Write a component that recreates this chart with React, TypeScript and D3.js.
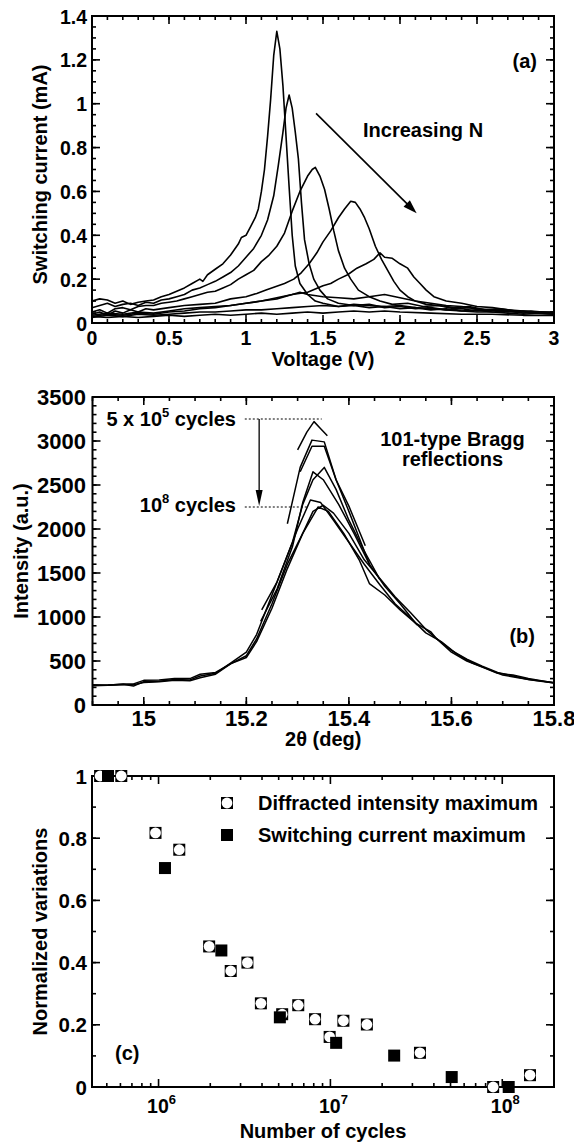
import React from 'react';
import * as d3 from 'd3';

const W = 574;
const H = 1144;
const FONT = '"Liberation Sans", Arial, Helvetica, sans-serif';

type P = [number, number];

// ---------- Panel (a): switching current vs voltage ----------
const curveA1: P[] = [[0,0.10],[0.05,0.11],[0.1,0.105],[0.15,0.09],[0.2,0.10],[0.25,0.085],[0.3,0.095],[0.35,0.10],[0.4,0.105],[0.45,0.12],[0.5,0.13],[0.55,0.145],[0.6,0.16],[0.65,0.18],[0.7,0.2],[0.72,0.19],[0.75,0.22],[0.8,0.245],[0.85,0.27],[0.9,0.31],[0.95,0.36],[0.97,0.39],[1.0,0.40],[1.03,0.44],[1.06,0.48],[1.08,0.52],[1.1,0.60],[1.12,0.70],[1.14,0.85],[1.16,1.02],[1.18,1.22],[1.2,1.33],[1.22,1.25],[1.24,1.08],[1.26,0.85],[1.28,0.62],[1.3,0.40],[1.32,0.26],[1.35,0.18],[1.4,0.13],[1.45,0.10],[1.5,0.09],[1.6,0.075],[1.7,0.08],[1.8,0.07],[1.9,0.075],[2.0,0.065],[2.1,0.07],[2.2,0.06],[2.3,0.065],[2.4,0.055],[2.5,0.06],[2.6,0.05],[2.7,0.055],[2.8,0.045],[2.9,0.05],[3.0,0.045]];
const curveA2: P[] = [[0,0.07],[0.05,0.08],[0.1,0.09],[0.15,0.075],[0.2,0.085],[0.25,0.09],[0.3,0.08],[0.35,0.095],[0.4,0.09],[0.45,0.105],[0.5,0.11],[0.55,0.12],[0.6,0.13],[0.65,0.15],[0.7,0.16],[0.75,0.175],[0.8,0.19],[0.85,0.21],[0.9,0.23],[0.95,0.26],[1.0,0.30],[1.05,0.34],[1.1,0.40],[1.14,0.47],[1.18,0.58],[1.21,0.72],[1.24,0.87],[1.26,0.98],[1.28,1.04],[1.3,0.98],[1.32,0.87],[1.34,0.75],[1.36,0.55],[1.38,0.38],[1.41,0.27],[1.44,0.2],[1.48,0.15],[1.53,0.11],[1.6,0.09],[1.7,0.08],[1.8,0.085],[1.9,0.07],[2.0,0.075],[2.1,0.065],[2.2,0.07],[2.3,0.06],[2.4,0.065],[2.5,0.055],[2.6,0.06],[2.7,0.05],[2.8,0.055],[2.9,0.045],[3.0,0.05]];
const curveA3: P[] = [[0,0.05],[0.05,0.06],[0.1,0.045],[0.15,0.065],[0.2,0.07],[0.25,0.06],[0.3,0.075],[0.35,0.08],[0.4,0.08],[0.45,0.09],[0.5,0.095],[0.55,0.10],[0.6,0.11],[0.65,0.12],[0.7,0.13],[0.75,0.14],[0.8,0.145],[0.85,0.16],[0.9,0.175],[0.95,0.20],[1.0,0.22],[1.05,0.24],[1.1,0.28],[1.15,0.31],[1.2,0.35],[1.25,0.41],[1.3,0.51],[1.35,0.60],[1.4,0.67],[1.43,0.70],[1.45,0.71],[1.48,0.67],[1.51,0.61],[1.54,0.52],[1.57,0.42],[1.6,0.33],[1.64,0.25],[1.68,0.2],[1.73,0.15],[1.8,0.12],[1.87,0.10],[1.95,0.085],[2.05,0.09],[2.15,0.075],[2.25,0.08],[2.35,0.065],[2.45,0.07],[2.55,0.055],[2.65,0.06],[2.75,0.05],[2.85,0.055],[3.0,0.045]];
const curveA4: P[] = [[0,0.04],[0.05,0.05],[0.1,0.035],[0.15,0.055],[0.2,0.045],[0.25,0.06],[0.3,0.05],[0.35,0.065],[0.4,0.06],[0.5,0.07],[0.6,0.08],[0.7,0.085],[0.8,0.09],[0.9,0.11],[1.0,0.12],[1.07,0.135],[1.13,0.15],[1.19,0.165],[1.25,0.18],[1.31,0.2],[1.36,0.23],[1.41,0.27],[1.46,0.32],[1.5,0.37],[1.55,0.42],[1.6,0.48],[1.64,0.52],[1.68,0.555],[1.71,0.55],[1.74,0.52],[1.77,0.48],[1.8,0.43],[1.84,0.35],[1.88,0.29],[1.92,0.24],[1.96,0.19],[2.0,0.15],[2.05,0.12],[2.1,0.10],[2.17,0.085],[2.25,0.08],[2.35,0.07],[2.45,0.075],[2.55,0.06],[2.65,0.065],[2.75,0.055],[2.85,0.05],[3.0,0.05]];
const curveA5: P[] = [[0,0.035],[0.1,0.045],[0.2,0.04],[0.3,0.05],[0.4,0.045],[0.5,0.055],[0.6,0.065],[0.7,0.07],[0.8,0.075],[0.9,0.08],[1.0,0.09],[1.1,0.10],[1.2,0.11],[1.3,0.13],[1.4,0.14],[1.5,0.17],[1.55,0.18],[1.6,0.2],[1.66,0.22],[1.72,0.25],[1.78,0.27],[1.83,0.29],[1.87,0.32],[1.9,0.30],[1.95,0.295],[2.0,0.27],[2.05,0.25],[2.09,0.21],[2.13,0.18],[2.17,0.15],[2.22,0.12],[2.3,0.10],[2.4,0.09],[2.5,0.075],[2.6,0.07],[2.7,0.06],[2.8,0.055],[2.9,0.05],[3.0,0.045]];
const curveA6: P[] = [[0,0.03],[0.1,0.04],[0.2,0.035],[0.3,0.045],[0.4,0.04],[0.5,0.05],[0.6,0.055],[0.7,0.065],[0.8,0.07],[0.9,0.08],[1.0,0.09],[1.1,0.10],[1.2,0.115],[1.3,0.13],[1.35,0.14],[1.4,0.13],[1.5,0.12],[1.6,0.115],[1.7,0.11],[1.8,0.12],[1.9,0.13],[2.0,0.115],[2.1,0.10],[2.2,0.09],[2.3,0.08],[2.4,0.075],[2.5,0.065],[2.6,0.06],[2.7,0.055],[2.8,0.05],[2.9,0.045],[3.0,0.04]];
const curveA7: P[] = [[0,0.025],[0.1,0.035],[0.2,0.03],[0.3,0.04],[0.4,0.035],[0.5,0.04],[0.6,0.045],[0.7,0.05],[0.8,0.05],[0.9,0.055],[1.0,0.06],[1.1,0.06],[1.2,0.065],[1.3,0.07],[1.4,0.075],[1.5,0.08],[1.6,0.075],[1.7,0.085],[1.8,0.08],[1.9,0.075],[2.0,0.08],[2.1,0.07],[2.2,0.065],[2.3,0.06],[2.4,0.055],[2.5,0.05],[2.6,0.05],[2.7,0.045],[2.8,0.04],[2.9,0.045],[3.0,0.04]];
const curveA8: P[] = [[0,0.03],[0.1,0.025],[0.2,0.03],[0.3,0.025],[0.4,0.03],[0.5,0.035],[0.6,0.03],[0.7,0.035],[0.8,0.04],[0.9,0.035],[1.0,0.04],[1.1,0.045],[1.2,0.04],[1.3,0.045],[1.4,0.05],[1.5,0.045],[1.6,0.05],[1.7,0.055],[1.8,0.05],[1.9,0.055],[2.0,0.05],[2.2,0.045],[2.4,0.04],[2.6,0.04],[2.8,0.035],[3.0,0.035]];
const switchingCurves = [curveA1, curveA2, curveA3, curveA4, curveA5, curveA6, curveA7, curveA8];

const aXTicks = [0, 0.5, 1, 1.5, 2, 2.5, 3];
const aXLabels = ['0', '0.5', '1', '1.5', '2', '2.5', '3'];
const aYTicks = [0, 0.2, 0.4, 0.6, 0.8, 1, 1.2, 1.4];
const aYLabels = ['0', '0.2', '0.4', '0.6', '0.8', '1', '1.2', '1.4'];

// ---------- Panel (b): Bragg reflections ----------
const braggF1: P[] = [[14.9,225],[14.93,228],[14.96,235],[14.98,215],[15.0,265],[15.03,270],[15.06,290],[15.09,285],[15.11,330],[15.14,360],[15.17,480],[15.2,600],[15.22,800],[15.25,1250],[15.28,1700],[15.30,2000],[15.325,2330],[15.345,2300],[15.37,2100],[15.40,1850],[15.43,1600],[15.46,1370],[15.49,1150],[15.52,990],[15.55,820],[15.58,720],[15.61,580],[15.64,480],[15.67,410],[15.70,340],[15.73,310],[15.76,280],[15.8,250]];
const braggF2: P[] = [[14.9,230],[14.93,225],[14.96,240],[14.98,240],[15.0,280],[15.03,285],[15.06,300],[15.09,300],[15.11,350],[15.14,370],[15.17,470],[15.2,560],[15.22,750],[15.25,1150],[15.28,1600],[15.31,1950],[15.33,2200],[15.35,2270],[15.37,2180],[15.40,1950],[15.43,1650],[15.46,1440],[15.49,1230],[15.52,1050],[15.55,860],[15.57,760],[15.6,620],[15.63,520],[15.66,440],[15.69,370],[15.72,330],[15.75,290],[15.8,255]];
const braggF3: P[] = [[14.9,220],[14.93,225],[14.96,230],[14.98,230],[15.0,255],[15.03,265],[15.06,280],[15.09,275],[15.11,310],[15.14,350],[15.17,470],[15.2,540],[15.22,720],[15.25,1100],[15.28,1550],[15.31,1950],[15.34,2250],[15.36,2200],[15.39,1950],[15.42,1650],[15.44,1380],[15.47,1250],[15.5,1080],[15.53,930],[15.56,830],[15.57,760],[15.6,600],[15.63,500],[15.66,430],[15.69,360],[15.72,340],[15.75,300],[15.8,250]];
const braggP1: P[] = [[15.30,2900],[15.318,3100],[15.332,3220],[15.345,3140],[15.358,3060]];
const braggP2: P[] = [[15.28,2060],[15.305,2700],[15.328,3010],[15.352,2990],[15.375,2560],[15.40,2260],[15.432,1810]];
const braggP3: P[] = [[15.305,2650],[15.328,2940],[15.352,2940],[15.375,2560],[15.40,2200],[15.42,1900],[15.44,1600],[15.47,1350],[15.5,1150],[15.533,910]];
const braggP4: P[] = [[15.23,1080],[15.26,1400],[15.29,1850],[15.31,2280],[15.33,2560],[15.352,2700],[15.375,2450],[15.40,2100],[15.43,1750],[15.46,1430]];
const braggP5: P[] = [[15.228,950],[15.26,1320],[15.29,1800],[15.31,2300],[15.33,2650],[15.35,2560],[15.38,2280],[15.41,1950],[15.44,1600]];
const braggCurves = [braggF1, braggF2, braggF3, braggP1, braggP2, braggP3, braggP4, braggP5];

const bXTicks = [15, 15.2, 15.4, 15.6, 15.8];
const bXLabels = ['15', '15.2', '15.4', '15.6', '15.8'];
const bYTicks = [0, 500, 1000, 1500, 2000, 2500, 3000, 3500];
const bYLabels = ['0', '500', '1000', '1500', '2000', '2500', '3000', '3500'];
const bMaxLevels = [3250, 2250];

// ---------- Panel (c): normalized variations ----------
const diffractedCycles = [4.57e5, 6.07e5, 9.6e5, 1.32e6, 1.97e6, 2.63e6, 3.29e6, 3.94e6, 5.24e6, 6.5e6, 8.14e6, 9.9e6, 1.19e7, 1.63e7, 3.32e7, 8.85e7, 1.45e8];
const diffractedValues = [1.0, 1.0, 0.817, 0.763, 0.452, 0.373, 0.40, 0.269, 0.234, 0.263, 0.218, 0.161, 0.213, 0.201, 0.11, 0.0, 0.038];
const switchingCycles = [5.08e5, 1.09e6, 2.32e6, 5.08e6, 1.08e7, 2.35e7, 5.08e7, 1.09e8];
const switchingValues = [1.0, 0.704, 0.439, 0.224, 0.142, 0.101, 0.032, 0.0];

const cXTicks = [1e6, 1e7, 1e8];
const cXExp = ['6', '7', '8'];
const cYTicks = [0, 0.2, 0.4, 0.6, 0.8, 1];
const cYLabels = ['0', '0.2', '0.4', '0.6', '0.8', '1'];

// ---------- scales ----------
const aX = d3.scaleLinear().domain([0, 3]).range([92, 554]);
const aY = d3.scaleLinear().domain([0, 1.4]).range([323, 16]);
const bX = d3.scaleLinear().domain([14.9, 15.8]).range([92.5, 554]);
const bY = d3.scaleLinear().domain([0, 3500]).range([705, 397]);
const cX = d3.scaleLog().domain([4.1e5, 2e8]).range([92, 554]);
const cY = d3.scaleLinear().domain([0, 1]).range([1087, 776]);

const range = (a: number, b: number, s: number) => {
  const out: number[] = [];
  const n = Math.round((b - a) / s);
  for (let i = 0; i <= n; i++) out.push(+(a + i * s).toFixed(6));
  return out;
};

function Frame({ x, y, major, minorX, majorY, minorY }: any) {
  const [x0, x1] = x.range();
  const [y0, y1] = y.range();
  const els: any[] = [];
  const M = 8, m = 4;
  const addX = (v: number, len: number, k: string) => {
    const px = x(v);
    els.push(<line key={'xb' + k} x1={px} x2={px} y1={y0} y2={y0 - len} />);
    els.push(<line key={'xt' + k} x1={px} x2={px} y1={y1} y2={y1 + len} />);
  };
  const addY = (v: number, len: number, k: string) => {
    const py = y(v);
    els.push(<line key={'yl' + k} x1={x0} x2={x0 + len} y1={py} y2={py} />);
    els.push(<line key={'yr' + k} x1={x1} x2={x1 - len} y1={py} y2={py} />);
  };
  major.forEach((v: number, i: number) => addX(v, M, 'M' + i));
  minorX.forEach((v: number, i: number) => addX(v, m, 'm' + i));
  majorY.forEach((v: number, i: number) => addY(v, M, 'M' + i));
  minorY.forEach((v: number, i: number) => addY(v, m, 'm' + i));
  return (
    <g stroke="#000" strokeWidth={1.6} fill="none">
      {els}
      <rect x={x0} y={y1} width={x1 - x0} height={y0 - y1} strokeWidth={2} />
    </g>
  );
}

function YLabels({ y, ticks, labels, size = 19.5, dy = 7.5, right = 87 }: any) {
  return (
    <g fontSize={size} textAnchor="end">
      {ticks.map((t: number, i: number) => (
        <text key={i} x={right} y={y(t) + dy}>{labels[i]}</text>
      ))}
    </g>
  );
}

function XLabels({ x, ticks, labels, base, size = 19.5 }: any) {
  return (
    <g fontSize={size} textAnchor="middle">
      {ticks.map((t: number, i: number) => (
        <text key={i} x={x(t)} y={base}>{labels[i]}</text>
      ))}
    </g>
  );
}

function arrowHead(x1: number, y1: number, x2: number, y2: number, len = 14, half = 4.5) {
  const ang = Math.atan2(y2 - y1, x2 - x1);
  const bx = x2 - len * Math.cos(ang);
  const by = y2 - len * Math.sin(ang);
  const nx = -Math.sin(ang) * half;
  const ny = Math.cos(ang) * half;
  return `${x2},${y2} ${bx + nx},${by + ny} ${bx - nx},${by - ny}`;
}

export default function App() {
  const lineA = d3.line<P>().x(d => aX(d[0])).y(d => aY(d[1]));
  const lineB = d3.line<P>().x(d => bX(d[0])).y(d => bY(d[1]));

  const arA = { x1: aX(1.455), y1: aY(0.956), x2: aX(2.108), y2: aY(0.5) };
  const arBx = bX(15.225);
  const arBy1 = bY(bMaxLevels[0]);
  const arBy2 = bY(bMaxLevels[1]) - 1;

  const aMinorX = range(0, 3, 0.1);
  const aMinorY = range(0, 1.4, 0.05);
  const bMinorX = range(14.9, 15.8, 0.05);
  const bMinorY = range(0, 3500, 100);
  const cMinorX: number[] = [];
  [1e5, 1e6, 1e7, 1e8].forEach(d => {
    for (let k = 2; k <= 9; k++) {
      const v = d * k;
      if (v > 4.1e5 && v < 2e8) cMinorX.push(v);
    }
  });
  const cMinorY = range(0, 1, 0.1);

  const S = 12;

  return (
    <svg width={W} height={H} style={{ position: 'absolute', left: 0, top: 0, background: '#fff' }}
      fontFamily={FONT} fontWeight="bold" fill="#000">
      <rect x={0} y={0} width={W} height={H} fill="#fff" />

      {/* ===== Panel (a) ===== */}
      <g fill="none" stroke="#000" strokeWidth={1.6} strokeLinejoin="round">
        {switchingCurves.map((c, i) => <path key={i} d={lineA(c) || ''} />)}
      </g>
      <Frame x={aX} y={aY} major={aXTicks} minorX={aMinorX} majorY={aYTicks} minorY={aMinorY} />
      <YLabels y={aY} ticks={aYTicks} labels={aYLabels} />
      <XLabels x={aX} ticks={aXTicks} labels={aXLabels} base={345} />
      <text x={(aX.range()[0] + aX.range()[1]) / 2} y={366} fontSize={20} textAnchor="middle">Voltage (V)</text>
      <text transform={`translate(47,${(aY.range()[0] + aY.range()[1]) / 2 + 5}) rotate(-90)`} fontSize={20} textAnchor="middle">Switching current (mA)</text>
      <line x1={arA.x1} y1={arA.y1} x2={arA.x2 - 8} y2={arA.y2 - 8} stroke="#000" strokeWidth={1.6} />
      <polygon points={arrowHead(arA.x1, arA.y1, arA.x2, arA.y2)} fill="#000" />
      <text x={aX(1.76)} y={aY(0.85)} fontSize={20}>Increasing N</text>
      <text x={aX(2.81)} y={aY(1.163)} fontSize={20} textAnchor="middle">(a)</text>

      {/* ===== Panel (b) ===== */}
      <g fill="none" stroke="#000" strokeWidth={1.5} strokeLinejoin="round">
        {braggCurves.map((c, i) => <path key={i} d={lineB(c) || ''} />)}
      </g>
      <Frame x={bX} y={bY} major={bXTicks} minorX={bMinorX} majorY={bYTicks} minorY={bMinorY} />
      <YLabels y={bY} ticks={bYTicks} labels={bYLabels} size={22} dy={8} right={86} />
      <XLabels x={bX} ticks={bXTicks} labels={bXLabels} base={726} size={22} />
      <text x={(bX.range()[0] + bX.range()[1]) / 2} y={746} fontSize={20} textAnchor="middle">2θ (deg)</text>
      <text transform={`translate(28,${(bY.range()[0] + bY.range()[1]) / 2}) rotate(-90)`} fontSize={20} textAnchor="middle">Intensity (a.u.)</text>
      <g stroke="#000" strokeWidth={1} strokeDasharray="2,2">
        <line x1={bX(15.197)} x2={bX(15.347)} y1={bY(bMaxLevels[0])} y2={bY(bMaxLevels[0])} />
        <line x1={bX(15.197)} x2={bX(15.318)} y1={bY(bMaxLevels[1])} y2={bY(bMaxLevels[1])} />
      </g>
      <line x1={arBx} x2={arBx} y1={arBy1} y2={arBy2 - 12} stroke="#000" strokeWidth={1.3} />
      <polygon points={arrowHead(arBx, arBy1, arBx, arBy2, 16, 3.5)} fill="#000" />
      <text x={236} y={bY(3174)} fontSize={20} textAnchor="end">
        <tspan>5 x 10</tspan><tspan dy={-9} fontSize={13}>5</tspan><tspan dy={9}>{' cycles'}</tspan>
      </text>
      <text x={236} y={bY(2197)} fontSize={20} textAnchor="end">
        <tspan>10</tspan><tspan dy={-9} fontSize={13}>8</tspan><tspan dy={9}>{' cycles'}</tspan>
      </text>
      <text x={bX(15.602)} y={bY(2943)} fontSize={20} textAnchor="middle">101-type Bragg</text>
      <text x={bX(15.602)} y={bY(2716)} fontSize={20} textAnchor="middle">reflections</text>
      <text x={bX(15.738)} y={bY(705)} fontSize={20} textAnchor="middle">(b)</text>

      {/* ===== Panel (c) ===== */}
      <Frame x={cX} y={cY} major={cXTicks} minorX={cMinorX} majorY={cYTicks} minorY={cMinorY} />
      <YLabels y={cY} ticks={cYTicks} labels={cYLabels} size={20.5} />
      <g fontSize={19.5} textAnchor="middle">
        {cXTicks.map((t, i) => (
          <text key={i} x={cX(t) + 3} y={1113}>
            <tspan>10</tspan><tspan dy={-9} fontSize={13}>{cXExp[i]}</tspan>
          </text>
        ))}
      </g>
      <text x={(cX.range()[0] + cX.range()[1]) / 2} y={1138} fontSize={20} textAnchor="middle">Number of cycles</text>
      <text transform={`translate(47,${(cY.range()[0] + cY.range()[1]) / 2}) rotate(-90)`} fontSize={20} textAnchor="middle">Normalized variations</text>
      <text x={115} y={1060} fontSize={20}>(c)</text>

      {diffractedCycles.map((n, i) => (
        <g key={'d' + i}>
          <rect x={cX(n) - S / 2} y={cY(diffractedValues[i]) - S / 2} width={S} height={S} fill="#000" />
          <circle cx={cX(n)} cy={cY(diffractedValues[i])} r={5.4} fill="#fff" />
        </g>
      ))}
      {switchingCycles.map((n, i) => (
        <rect key={'s' + i} x={cX(n) - S / 2} y={cY(switchingValues[i]) - S / 2} width={S} height={S} fill="#000" />
      ))}

      {/* legend */}
      <rect x={227 - S / 2} y={803 - S / 2} width={S} height={S} fill="#000" />
      <circle cx={227} cy={803} r={5.4} fill="#fff" />
      <rect x={227 - S / 2} y={835 - S / 2} width={S} height={S} fill="#000" />
      <text x={258} y={810} fontSize={20}>Diffracted intensity maximum</text>
      <text x={258} y={842} fontSize={20}>Switching current maximum</text>
    </svg>
  );
}
